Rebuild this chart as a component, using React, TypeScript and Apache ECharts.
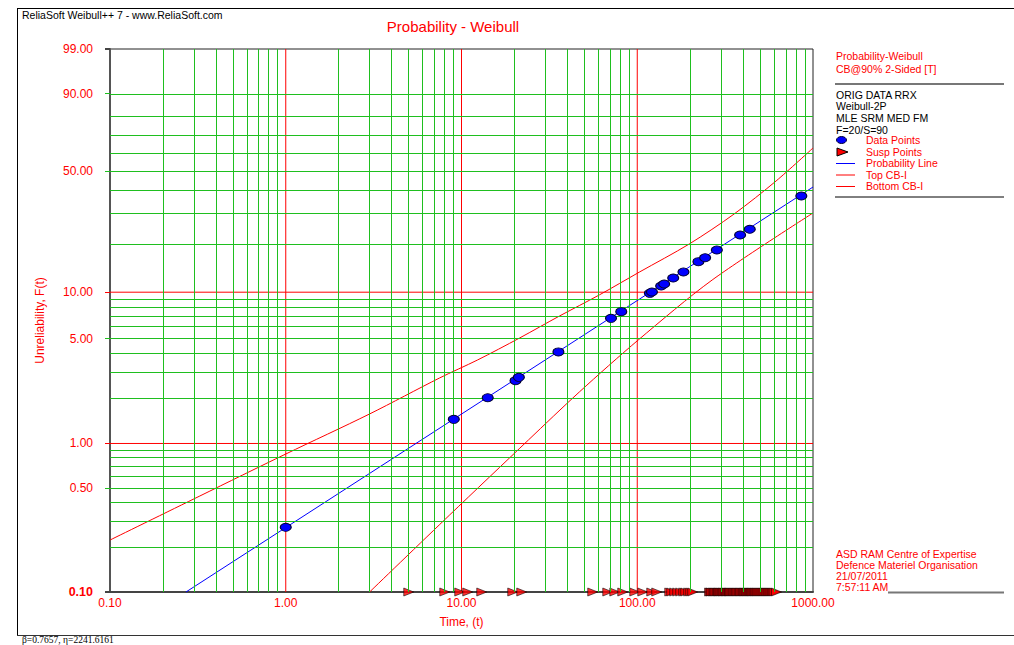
import React, { useEffect, useRef } from "react";
import * as echarts from "echarts";

// ---- data ----
const failureTimes = [1.0, 9.04, 14.1, 20.3, 21.2, 35.6, 70.9, 81.1, 118, 121.2, 136.8, 142.3, 160.2, 183.2, 222.9, 243.3, 283.7, 384.9, 436.7, 858.2];
const failureUnrel = [0.273, 1.452, 2.025, 2.63, 2.77, 4.08, 6.78, 7.49, 9.83, 10.03, 10.95, 11.28, 12.31, 13.43, 15.57, 16.47, 18.37, 22.6, 24.42, 37.47];

const suspTimes = [
  5.01, 8.03, 9.77, 10.85, 13.04, 19.57, 22.02,
  55.8, 67.96, 74.5, 82.7, 96.8, 107.5, 120.9, 129.1,
  153.1, 157.1, 163.4, 170.0, 176.8, 183.9, 188.8, 196.3, 201.6, 206.9,
  258, 262, 265, 270, 274, 277, 281, 286, 290, 293, 297, 301, 306, 309, 313, 318, 322, 326, 331, 335,
  338, 342, 347, 352, 356, 361, 366, 370, 375, 381, 386, 390, 396, 402, 407, 412, 418, 423, 429, 435,
  441, 447, 452, 458, 465, 471, 478, 484, 491, 498, 505, 512, 519, 526, 533, 541, 548, 556, 563, 571,
  579, 588, 597, 606, 620,
];

const probLineTimes = [0.2706, 1000];
const probLineUnrel = [0.1, 41.7];

const topCBTimes = [0.1, 0.3246, 1.0, 3.0, 7.5, 12.33, 21.4, 36.1, 60.8, 102.7, 197.5, 355.6, 616.4, 1000];
const topCBUnrel = [0.224, 0.4436, 0.8496, 1.577, 2.741, 3.608, 5.04, 7.02, 9.6, 13.4, 19.96, 29.87, 44.72, 62.82];

const bottomCBTimes = [3.0, 8.55, 24.03, 46.8, 101.3, 266.7, 1000];
const bottomCBUnrel = [0.1, 0.33, 1.055, 2.21, 4.89, 11.95, 30.27];

const yLabelValues = [99, 90, 50, 10, 5, 1, 0.5, 0.1];
const yTickGreen = [90, 50, 5, 0.5];
const yTickRed = [10, 1];
const yTickDark = [99, 0.1];

const xGridGreen = [0.2, 0.3, 0.4, 0.5, 0.6, 0.7, 0.8, 0.9, 2, 3, 4, 5, 6, 7, 8, 9, 20, 30, 40, 50, 60, 70, 80, 90, 200, 300, 400, 500, 600, 700, 800, 900];
const xGridRed = [1, 10, 100];
const yGridGreen = [90, 80, 70, 60, 50, 40, 30, 20, 9, 8, 7, 6, 5, 4, 3, 2, 0.9, 0.8, 0.7, 0.6, 0.5, 0.4, 0.3, 0.2];
const yGridRed = [10, 1];

const legendHeader = ["Probability-Weibull", "CB@90% 2-Sided [T]"];
const legendInfo = ["ORIG DATA RRX", "Weibull-2P", "MLE SRM MED FM", "F=20/S=90"];
const legendItems = ["Data Points", "Susp Points", "Probability Line", "Top CB-I", "Bottom CB-I"];
const footerLines = ["ASD RAM Centre of Expertise", "Defence Materiel Organisation", "21/07/2011", "7:57:11 AM"];

// ---- helpers ----
const wb = (p: number) => Math.log(-Math.log(1 - p / 100));
const pair = (ts: number[], fs: number[]) => ts.map((t, i) => [t, wb(fs[i])]);

const RED = "#ff0000";
const GREEN = "#1fbf1f";
const FONT = "'Liberation Sans', Arial, sans-serif";

export default function App() {
  const ref = useRef<HTMLDivElement>(null);

  useEffect(() => {
    const chart = echarts.init(ref.current!, null, { renderer: "svg" });
    const yMin = wb(0.1);
    const yMax = wb(99);

    const greenGrid = {
      type: "line",
      name: "gridGreen",
      z: 1,
      data: [[1, yMin]],
      symbol: "none",
      lineStyle: { opacity: 0 },
      silent: true,
      markLine: {
        silent: true,
        symbol: "none",
        animation: false,
        label: { show: false },
        emphasis: { disabled: true },
        lineStyle: { color: GREEN, width: 1, type: "solid", opacity: 1 },
        data: [...xGridGreen.map((v) => ({ xAxis: v })), ...yGridGreen.map((v) => ({ yAxis: wb(v) }))],
      },
    };

    const redLine = (data: number[][]) => ({
      type: "line",
      z: 2,
      data,
      symbol: "none",
      silent: true,
      lineStyle: { color: RED, width: 1, type: "solid" },
    });
    const redGrid = [
      ...xGridRed.map((v) => redLine([[v, yMin], [v, yMax]])),
      ...yGridRed.map((v) => redLine([[0.1, wb(v)], [1000, wb(v)]])),
    ];

    const baseY: any = {
      type: "value",
      min: yMin,
      max: yMax,
      position: "left",
      gridIndex: 0,
      splitLine: { show: false },
      axisLine: { show: false, onZero: false },
      axisLabel: { show: false },
      axisTick: { show: false },
    };

    const txt = (x: number, y: number, text: string, color: string, size = 10.5, extra: any = {}) => ({
      type: "text",
      x,
      y,
      style: { text, fill: color, font: `${size}px ${FONT}`, textVerticalAlign: "middle", ...extra },
      silent: true,
    });
    const hline = (x1: number, x2: number, y: number, color: string, w: number) => ({
      type: "line",
      shape: { x1, y1: y, x2, y2: y },
      style: { stroke: color, lineWidth: w },
      silent: true,
    });

    const graphics: any[] = [
      { type: "line", shape: { x1: 17.5, y1: 8, x2: 17.5, y2: 636 }, style: { stroke: "#000", lineWidth: 1 } },
      hline(17, 1014, 8.5, "#000", 1),
      hline(17, 1014, 635.5, "#333", 1),
      txt(22, 15, "ReliaSoft Weibull++ 7 - www.ReliaSoft.com", "#000", 10.5),
      txt(453, 26, "Probability - Weibull", RED, 15, { textAlign: "center" }),
      {
        type: "text",
        x: 22,
        y: 640,
        style: { text: "β=0.7657, η=2241.6161", fill: "#000", font: "9.5px 'Liberation Serif', serif", textVerticalAlign: "middle" },
      },
      txt(836, 56, legendHeader[0], RED),
      txt(836, 68.5, legendHeader[1], RED),
      hline(835, 1004, 84, "#777", 2),
      ...legendInfo.map((s, i) => txt(836, 94.5 + i * 11.7, s, "#000")),
      { type: "ellipse", shape: { cx: 841.5, cy: 140, rx: 5, ry: 3.5 }, style: { fill: "#0000ff", stroke: "#000033", lineWidth: 1 } },
      { type: "polygon", shape: { points: [[837, 148], [848, 152], [837, 156]] }, style: { fill: RED, stroke: "#000", lineWidth: 1 } },
      hline(836, 855, 163.5, "#0000ff", 1),
      hline(836, 855, 175, RED, 1),
      hline(836, 855, 186.5, RED, 1),
      ...legendItems.map((s, i) => txt(866, 140 + i * 11.6, s, RED)),
      hline(835, 1004, 197, "#000", 1),
      hline(888, 1004, 592.5, "#777", 2),
      ...footerLines.map((s, i) => txt(836, 553.5 + i * 11.2, s, RED)),
    ];

    chart.setOption({
      animation: false,
      backgroundColor: "#ffffff",
      textStyle: { fontFamily: FONT },
      grid: { left: 110, top: 49, width: 703, height: 543, show: true, borderColor: "#222", borderWidth: 1, backgroundColor: "#fff" },
      xAxis: {
        type: "log",
        logBase: 10,
        min: 0.1,
        max: 1000,
        splitNumber: 4,
        name: "Time, (t)",
        nameLocation: "middle",
        nameGap: 24,
        nameTextStyle: { color: RED, fontSize: 12, fontFamily: FONT },
        axisLine: { show: true, onZero: false, lineStyle: { color: "#444", width: 2 } },
        axisTick: { show: false },
        splitLine: { show: false },
        axisLabel: {
          color: RED,
          fontSize: 12,
          margin: 5,
          showMinLabel: true,
          showMaxLabel: true,
          formatter: (v: number) => Number(v).toFixed(2),
        },
      },
      yAxis: [
        {
          ...baseY,
          name: "Unreliability, F(t)",
          nameLocation: "middle",
          nameGap: 64,
          nameTextStyle: { color: RED, fontSize: 12, fontFamily: FONT },
          axisLine: { show: true, onZero: false, lineStyle: { color: "#555", width: 2 } },
          axisLabel: {
            show: true,
            customValues: yLabelValues.map(wb),
            color: RED,
            fontSize: 12,
            margin: 17,
            formatter: (v: number) => {
              const s = ((1 - Math.exp(-Math.exp(v))) * 100).toFixed(2);
              return s === "0.10" ? "{b|0.10}" : s;
            },
            rich: { b: { fontWeight: "bold", color: RED, fontSize: 12.5, fontFamily: FONT } },
          },
          axisTick: { show: true, length: 5, customValues: yTickGreen.map(wb), lineStyle: { color: GREEN, width: 1 } },
        },
        { ...baseY, axisTick: { show: true, length: 5, customValues: yTickRed.map(wb), lineStyle: { color: RED, width: 1 } } },
        { ...baseY, axisTick: { show: true, length: 5, customValues: yTickDark.map(wb), lineStyle: { color: "#444", width: 2 } } },
      ],
      series: [
        greenGrid,
        ...redGrid,
        {
          type: "line",
          name: "Top CB-I",
          z: 3,
          data: pair(topCBTimes, topCBUnrel),
          symbol: "none",
          smooth: 0.3,
          lineStyle: { color: RED, width: 1 },
          silent: true,
        },
        {
          type: "line",
          name: "Bottom CB-I",
          z: 3,
          data: pair(bottomCBTimes, bottomCBUnrel),
          symbol: "none",
          smooth: 0.3,
          lineStyle: { color: RED, width: 1 },
          silent: true,
        },
        {
          type: "line",
          name: "Probability Line",
          z: 3,
          data: pair(probLineTimes, probLineUnrel),
          symbol: "none",
          lineStyle: { color: "#0000ff", width: 1 },
          silent: true,
        },
        {
          type: "scatter",
          name: "Susp Points",
          z: 4,
          clip: false,
          data: suspTimes.map((t) => [t, yMin]),
          symbol: "triangle",
          symbolSize: [8, 10],
          symbolRotate: -90,
          itemStyle: { color: RED, borderColor: "#000", borderWidth: 0.7 },
          silent: true,
        },
        {
          type: "scatter",
          name: "Data Points",
          z: 5,
          clip: false,
          data: pair(failureTimes, failureUnrel),
          symbol: "circle",
          symbolSize: [11, 8],
          itemStyle: { color: "#0000ff", borderColor: "#000033", borderWidth: 1, opacity: 1 },
          silent: true,
        },
      ],
      graphic: graphics,
    });

    return () => chart.dispose();
  }, []);

  return <div ref={ref} style={{ position: "fixed", left: 0, top: 0, width: 1014, height: 645, background: "#fff" }} />;
}
